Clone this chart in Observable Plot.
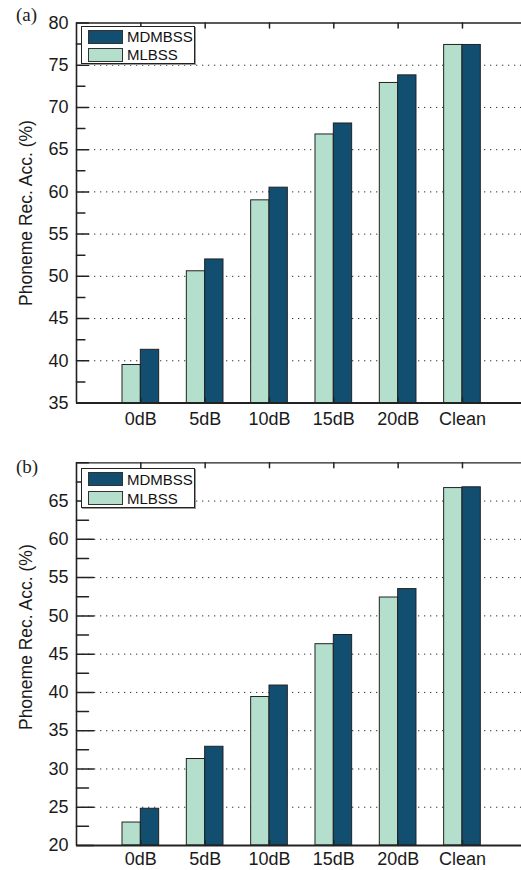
<!DOCTYPE html>
<html><head><meta charset="utf-8">
<script src="https://cdn.jsdelivr.net/npm/d3@7"></script>
<script src="https://cdn.jsdelivr.net/npm/@observablehq/plot@0.6"></script>
<style>
body{margin:0;background:#fff;}
#wrap{position:relative;width:521px;height:870px;overflow:hidden;font-family:"Liberation Sans",Arial,sans-serif;}
.panel{position:absolute;left:0;}
.plabel{position:absolute;font-family:"Liberation Serif","Times New Roman",serif;font-size:19px;color:#222;line-height:1;}
.legend{position:absolute;border:1px solid #222;background:#fff;box-shadow:1px 1px 0 #999;box-sizing:border-box;}
.sw{position:absolute;border:1px solid #333;box-sizing:border-box;}
.lt{position:absolute;font-size:15px;color:#111;line-height:1;}
</style></head><body><div id="wrap"></div>
<script>
const categories = ["0dB","5dB","10dB","15dB","20dB","Clean"];
const seriesNames = ["MDMBSS","MLBSS"];
const seriesColors = ["#124e70","#b5dfcd"];
const mdmbssA = [41.3, 52.0, 60.5, 68.1, 73.8, 77.4];
const mlbssA  = [39.5, 50.6, 59.0, 66.8, 72.9, 77.4];
const mdmbssB = [24.8, 32.9, 40.9, 47.5, 53.5, 66.8];
const mlbssB  = [23.0, 31.3, 39.4, 46.3, 52.4, 66.7];
const yTicksA = [35,40,45,50,55,60,65,70,75,80];
const yTicksB = [20,25,30,35,40,45,50,55,60,65];
const yDomainA = [35,80];
const yDomainB = [20,70];
const panelLabels = ["(a)","(b)"];
const yLabel = "Phoneme Rec. Acc. (%)";

const wrap = document.getElementById("wrap");
const W = 0.285;
const tickShape = {draw(ctx, l){ ctx.moveTo(0,0); ctx.lineTo(0,-l); }};

function makePanel(mdm, mlb, yTicks, yDomain, opts){
  const rows = [];
  categories.forEach((c,i)=>{
    rows.push({pos:i+1, series:"MLBSS", value:mlb[i]});
    rows.push({pos:i+1, series:"MDMBSS", value:mdm[i]});
  });
  const [y0,y1] = yDomain;
  const minor = d3.range(y0, y1 + 0.001, 2.5);
  const catPos = categories.map((c,i)=>i+1);
  const plot = Plot.plot({
    width:521, height:opts.height,
    marginLeft:76, marginRight:0, marginTop:opts.mt, marginBottom:opts.mb,
    style:{fontFamily:"Liberation Sans, Arial, sans-serif", fontSize:"18px", color:"#1a1a1a", background:"#fff"},
    x:{domain:[0,7], range:[76,526.3], axis:null},
    y:{domain:yDomain, axis:null},
    color:{domain:seriesNames, range:seriesColors},
    marks:[
      Plot.ruleY(yTicks.filter(t=>t>y0 && t<y1), {x1:0, x2:7, stroke:"#333", strokeWidth:1, strokeDasharray:"1.3,4.7"}),
      Plot.rect(rows, {
        x1:d=>d.pos - (d.series==="MLBSS"?W:0),
        x2:d=>d.pos + (d.series==="MDMBSS"?W:0),
        y1:y0, y2:"value", fill:"series", stroke:"#222", strokeWidth:1
      }),
      Plot.vector(minor, {x:0, y:d=>d, length:d=>yTicks.includes(d)?5:3.5, rotate:90, anchor:"start", shape:tickShape, stroke:"#222"}),
      Plot.vector(catPos, {x:d=>d, y:y1, length:5, rotate:180, anchor:"start", shape:tickShape, stroke:"#222"}),
      Plot.vector(catPos, {x:d=>d, y:y0, length:5, rotate:0, anchor:"start", shape:tickShape, stroke:"#222"}),
      Plot.ruleX([0], {stroke:"#222", strokeWidth:1.6}),
      Plot.ruleY([y0], {x1:0, x2:7, stroke:"#222", strokeWidth:2}),
      Plot.ruleY([y1], {x1:0, x2:7, stroke:"#222", strokeWidth:1.3}),
      Plot.axisY(yTicks, {tickSize:0, tickPadding:8, fontSize:18, label:null}),
      Plot.axisX(catPos, {tickSize:0, tickPadding:opts.xpad, fontSize:18, label:null, tickFormat:d=>categories[d-1]}),
      Plot.text([yLabel], {frameAnchor:"left", textAnchor:"middle", dx:-50, dy:opts.labelDy, rotate:-90, fontSize:17.5, fill:"#1a1a1a"})
    ]
  });
  plot.classList.add("panel");
  plot.style.top = opts.top + "px";
  wrap.appendChild(plot);
}

makePanel(mdmbssA, mlbssA, yTicksA, yDomainA, {height:432, mt:22.5, mb:29.5, top:0, xpad:9, labelDy:0});
makePanel(mdmbssB, mlbssB, yTicksB, yDomainB, {height:438, mt:30.3, mb:25, top:432, xpad:7, labelDy:-17});

function legend(top, h){
  const box = document.createElement("div");
  box.className = "legend";
  Object.assign(box.style, {left:"81px", top:top+"px", width:"114px", height:h+"px"});
  seriesNames.forEach((s,i)=>{
    const sw = document.createElement("div");
    sw.className = "sw";
    const st = 3 + i*(h/2 - 1);
    Object.assign(sw.style, {left:"6px", top:st+"px", width:"35px", height:"14px", background:seriesColors[i]});
    box.appendChild(sw);
    const t = document.createElement("div");
    t.className = "lt";
    t.textContent = s;
    Object.assign(t.style, {left:"45px", top:(st-0.5)+"px"});
    box.appendChild(t);
  });
  wrap.appendChild(box);
}
legend(25.5, 38);
legend(468, 40);

[[panelLabels[0], 16, 5],[panelLabels[1], 16, 457]].forEach(([txt,x,y])=>{
  const p = document.createElement("div");
  p.className = "plabel";
  p.textContent = txt;
  Object.assign(p.style, {left:x+"px", top:y+"px"});
  wrap.appendChild(p);
});
</script></body></html>
